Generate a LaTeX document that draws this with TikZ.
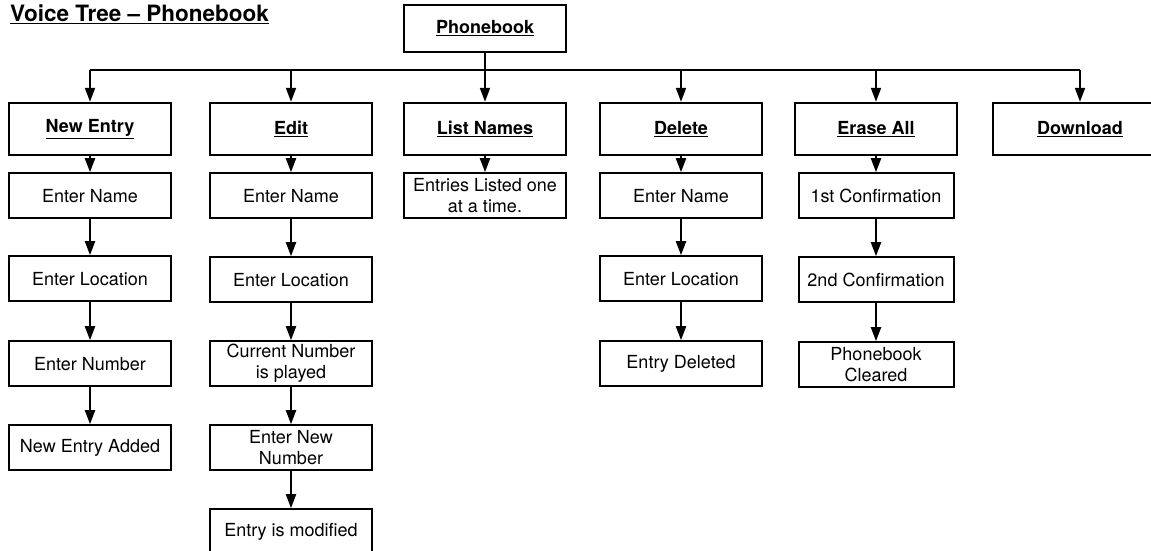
\documentclass[tikz,border=0pt]{standalone}
\usepackage{fontspec}
\setmainfont{TeX Gyre Heros}
\usetikzlibrary{arrows.meta,positioning}

\begin{document}
\begin{tikzpicture}[x=1pt,y=-1pt,
    topbox/.style={draw, line width=2.4pt, minimum width=162pt, minimum height=52pt, inner sep=0pt,
        font=\fontsize{18}{21}\selectfont\bfseries},
    subbox/.style={draw, line width=2pt, minimum width=162pt, minimum height=45pt, inner sep=0pt,
        align=center, font=\fontsize{18}{21}\selectfont},
    link/.style={line width=2pt, -{Triangle[length=14pt,width=10pt]}},
    bus/.style={line width=2pt}]
\useasboundingbox (0,0) rectangle (1151,551);
\clip (0,0) rectangle (1151,551);
% title and root
\node[anchor=base west, inner sep=0pt, font=\fontsize{22.5}{25}\selectfont\bfseries] (title) at (10,22)
    {\underline{Voice Tree -- Phonebook}};
\node[topbox, minimum height=47pt] (book) at (485,28.5) {\underline{Phonebook}};
% menu entries
\node[topbox] (new) at (90,129) {\underline{New Entry}};
\node[topbox] (edit) at (291,129) {\underline{Edit}};
\node[topbox] (list) at (485,129) {\underline{List Names}};
\node[topbox] (del) at (681,129) {\underline{Delete}};
\node[topbox] (erase) at (876,129) {\underline{Erase All}};
\node[topbox, minimum width=174pt] (dl) at (1080,129) {\underline{Download}};
\coordinate (fork) at (485,70);
\draw[bus] (book.south) -- (fork);
\draw[bus] (new.north |- fork) -- (dl.north |- fork);
\foreach \n in {new,edit,list,del,erase,dl}
    \draw[link] (\n.north |- fork) -- (\n.north);
% new entry
\node[subbox, below=16pt of new] (new1) {Enter Name};
\node[subbox, below=36pt of new1] (new2) {Enter Location};
\node[subbox, below=38pt of new2] (new3) {Enter Number};
\node[subbox, below=37pt of new3] (new4) {New Entry Added};
% edit
\node[subbox, below=16pt of edit] (edit1) {Enter Name};
\node[subbox, below=37pt of edit1] (edit2) {Enter Location};
\node[subbox, below=37pt of edit2] (edit3) {Current Number\\is played};
\node[subbox, below=37pt of edit3] (edit4) {Enter New\\Number};
\node[subbox, below=37pt of edit4] (edit5) {Entry is modified};
% list names
\node[subbox, below=16pt of list] (list1) {Entries Listed one\\at a time.};
% delete
\node[subbox, below=16pt of del] (del1) {Enter Name};
\node[subbox, below=36pt of del1] (del2) {Enter Location};
\node[subbox, below=38pt of del2] (del3) {Entry Deleted};
% erase all
\node[subbox, minimum width=155pt, below=16pt of erase] (erase1) {1st Confirmation};
\node[subbox, minimum width=155pt, below=37pt of erase1] (erase2) {2nd Confirmation};
\node[subbox, minimum width=155pt, below=38pt of erase2] (erase3) {Phonebook\\Cleared};
\foreach \a/\b in {new/new1,new1/new2,new2/new3,new3/new4,
        edit/edit1,edit1/edit2,edit2/edit3,edit3/edit4,edit4/edit5,
        list/list1,del/del1,del1/del2,del2/del3,
        erase/erase1,erase1/erase2,erase2/erase3}
    \draw[link] (\a) -- (\b);
\end{tikzpicture}
\end{document}
